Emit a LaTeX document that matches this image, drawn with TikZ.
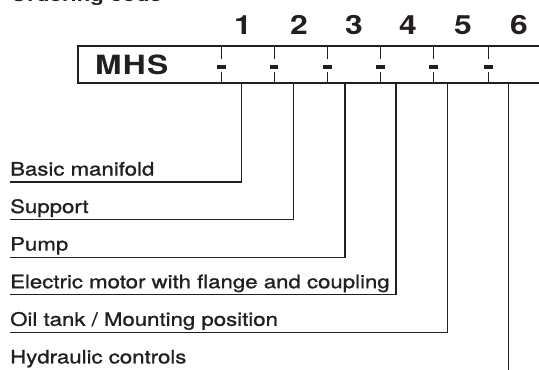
\documentclass[tikz,border=0pt]{standalone}
\usepackage{fontspec}
\setmainfont[FakeStretch=1.2]{TeX Gyre Heros}
\newfontfamily\medfont[FakeStretch=1.2,FakeBold=1.1]{TeX Gyre Heros}
\definecolor{ink}{HTML}{231F20}
\begin{document}
\begin{tikzpicture}[x=1pt,y=-1pt,
  lbl/.style={anchor=base west,inner sep=0pt,font=\medfont\fontsize{18.5}{20}\selectfont,text=ink},
  num/.style={anchor=base,inner sep=0pt,font=\fontsize{26.5}{28}\selectfont\bfseries,text=ink},
  boxline/.style={draw=ink,line width=2pt},
  tick/.style={draw=ink,line width=1pt},
  dashmark/.style={fill=ink,draw=none,minimum width=8.5pt,minimum height=3.8pt,inner sep=0pt},
  conn/.style={draw=ink,line width=1.2pt}]
\useasboundingbox (0,0) rectangle (539,370);
% title (cut off at top, as in the reference)
\node[anchor=base west,inner sep=0pt,font=\fontsize{18.5}{20}\selectfont\bfseries,text=ink] (title) at (10,1.5) {Ordering code};
% position numbers
\foreach \n/\x in {1/243,2/299,3/354,4/408,5/463,6/519}
  \node[num] (n\n) at (\x,34) {\n};
% code box (open to the right)
\draw[boxline] (545,46) -- (78,46) -- (78,83) -- (545,83);
\node[anchor=base west,inner sep=0pt,font=\fontsize{26.5}{28}\selectfont\bfseries,text=ink] (mhs) at (95,74) {M\hspace{1.2pt}H\hspace{1.2pt}S};
% separators
\foreach \i/\x in {1/221.7,2/274,3/327.3,4/380.3,5/433.3,6/488.3}{
  \draw[tick] (\x,46) -- (\x,58.5);
  \node[dashmark] (d\i) at (\x,67) {};
  \draw[tick] (\x,71.5) -- (\x,83);
}
% labels
\node[lbl] (l1) at (10,175.5) {Basic manifold};
\node[lbl] (l2) at (10,213) {Support};
\node[lbl] (l3) at (10,250.6) {Pump};
\node[lbl] (l4) at (10,288.2) {Electric motor with flange and coupling};
\node[lbl] (l5) at (10,325.8) {Oil tank / Mounting position};
\node[lbl] (l6) at (10,363.4) {Hydraulic controls};
% connectors
\foreach \i/\x/\y in {1/241.7/182,2/293.3/219.6,3/345/257.2,4/396/294.8,5/447.7/332.4}{
  \coordinate (t\i) at (\x,83);
  \coordinate (c\i) at (\x,\y);
  \coordinate (e\i) at (10,\y);
  \draw[conn] (t\i) -- (c\i) -- (e\i);
}
\coordinate (t6) at (508.7,83);
\coordinate (e6) at (508.7,372);
\draw[conn] (t6) -- (e6);
\end{tikzpicture}
\end{document}
